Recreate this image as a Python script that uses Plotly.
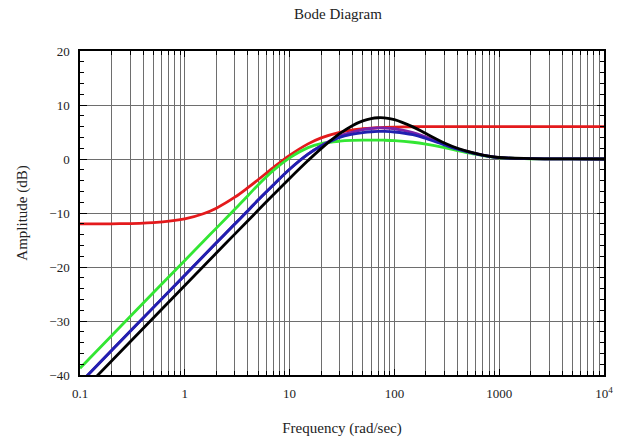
import plotly.graph_objects as go

# Frequencies (rad/sec) at which curve values were read
freq = [0.1, 0.2, 0.5, 1, 1.5, 2, 3, 4, 5, 7, 10, 15, 20, 30, 40, 50, 60, 70, 80, 100,
        150, 200, 300, 400, 500, 700, 1000, 2000, 5000, 10000]

# Amplitudes (dB)
red = [-12.03, -12.0, -11.78, -11.09, -10.14, -9.10, -7.07, -5.31, -3.84, -1.58, 0.68, 2.80,
       3.92, 4.95, 5.39, 5.60, 5.73, 5.80, 5.85, 5.91, 5.97, 5.99, 6.0, 6.0, 6.0, 6.0, 6.0,
       6.0, 6.0, 6.0]
green = [-38.76, -32.74, -24.78, -18.78, -15.29, -12.8, -9.3, -6.8, -4.8, -2.1, 0.2, 2.1,
         2.85, 3.3, 3.45, 3.5, 3.5, 3.5, 3.48, 3.4, 3.1, 2.75, 2.1, 1.55, 1.15, 0.62, 0.22,
         0.05, 0.01, 0.0]
blue = [-41.5, -35.48, -27.52, -21.51, -18.0, -15.51, -12.03, -9.59, -7.6, -4.8, -1.9, 0.9,
        2.4, 4.0, 4.6, 4.9, 5.05, 5.1, 5.1, 5.0, 4.5, 3.8, 2.6, 1.8, 1.3, 0.68, 0.24, 0.06,
        0.01, 0.0]
purple = [-41.5, -35.48, -27.52, -21.51, -18.0, -15.51, -12.03, -9.59, -7.6, -4.8, -1.9, 0.9,
          2.45, 4.25, 5.0, 5.45, 5.65, 5.75, 5.74, 5.6, 4.89, 4.05, 2.75, 1.9, 1.35, 0.7, 0.26,
          0.07, 0.01, 0.0]
black = [-43.43, -37.41, -29.45, -23.43, -19.92, -17.42, -13.91, -11.42, -9.50, -6.62, -3.61,
         -0.29, 1.92, 4.68, 6.22, 7.06, 7.49, 7.64, 7.62, 7.29, 5.95, 4.71, 2.98, 1.99, 1.4,
         0.72, 0.28, 0.08, 0.01, 0.0]

x_tickvals = [0.1, 1, 10, 100, 1000, 10000]
x_ticktext = ["0.1", "1", "10", "100", "1000", "10<sup>4</sup>"]
y_tickvals = [-40, -30, -20, -10, 0, 10, 20]

minor_x = [m * d for d in [0.1, 1, 10, 100, 1000] for m in range(2, 10)]

series = [
    (red, "#e41a1c"),
    (green, "#33e633"),
    (purple, "#7a22a8"),
    (blue, "#2020b0"),
    (black, "#000000"),
]

fig = go.Figure()
for ys, col in series:
    fig.add_trace(go.Scatter(x=freq, y=ys, mode="lines",
                             line=dict(color=col, width=2.8, shape="spline", smoothing=1.0),
                             showlegend=False, hoverinfo="skip"))

font = "Liberation Serif, Times New Roman, serif"
fig.update_layout(
    width=628, height=448,
    margin=dict(l=80, r=24, t=51, b=73),
    paper_bgcolor="white", plot_bgcolor="white",
    font=dict(family=font, size=13, color="#222"),
    title=dict(text="Bode Diagram", x=338 / 628, xref="container", xanchor="center",
               y=1 - 14 / 448, yref="container", yanchor="middle",
               font=dict(family=font, size=15, color="#222")),
)
fig.update_xaxes(
    type="log", range=[-1, 4],
    tickvals=x_tickvals, ticktext=x_ticktext,
    showgrid=True, gridcolor="#6e6e6e", gridwidth=1,
    minor=dict(tickvals=minor_x, showgrid=True, gridcolor="#6e6e6e", gridwidth=1,
               ticks="inside", ticklen=4, tickcolor="black"),
    ticks="inside", ticklen=6, tickcolor="black",
    showline=True, linecolor="black", linewidth=1.5, mirror="ticks",
    zeroline=False, ticklabelstandoff=6,
    title=dict(text="Frequency (rad/sec)", standoff=22, font=dict(family=font, size=15)),
)
fig.update_yaxes(
    range=[-40, 20], tickvals=y_tickvals,
    showgrid=True, gridcolor="#6e6e6e", gridwidth=1,
    minor=dict(dtick=2, ticks="inside", ticklen=4, tickcolor="black", showgrid=False),
    ticks="inside", ticklen=7, tickcolor="black",
    showline=True, linecolor="black", linewidth=1.5, mirror="ticks",
    zeroline=False, ticklabelstandoff=6,
    title=dict(text="Amplitude (dB)", standoff=18, font=dict(family=font, size=15)),
)

fig.write_html("out.html")
